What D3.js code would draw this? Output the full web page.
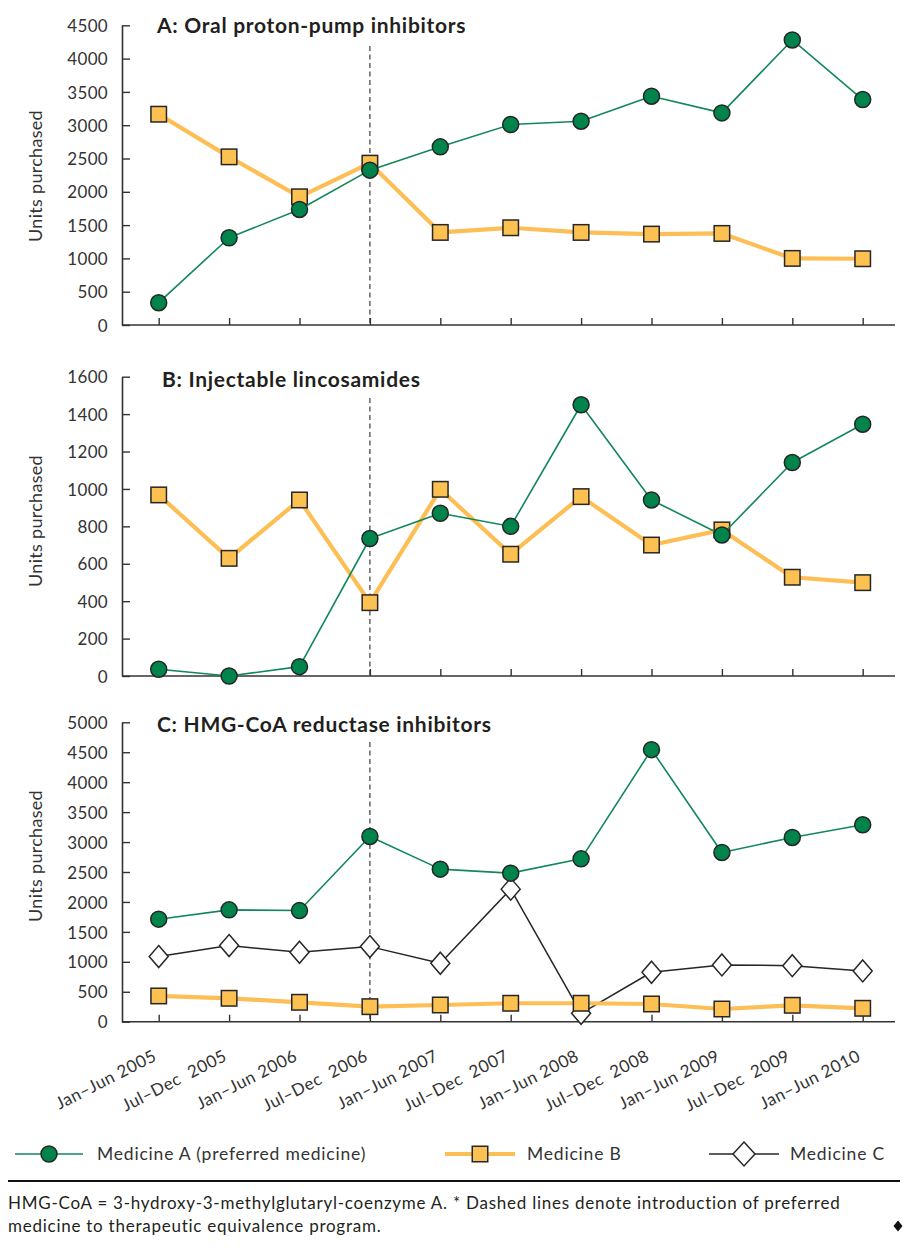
<!DOCTYPE html>
<html>
<head>
<meta charset="utf-8">
<script src="https://cdn.jsdelivr.net/npm/d3@7"></script>
<style>
  html, body { margin: 0; padding: 0; background: #fff; }
  svg text { font-family: Lato, "Open Sans", sans-serif; }
</style>
</head>
<body>
<svg id="chart" width="910" height="1260"></svg>
<script>
// ---------- DATA ----------
const periods = ["Jan–Jun 2005", "Jul–Dec  2005", "Jan–Jun 2006", "Jul–Dec  2006", "Jan–Jun 2007",
  "Jul–Dec  2007", "Jan–Jun 2008", "Jul–Dec  2008", "Jan–Jun 2009", "Jul–Dec  2009", "Jan–Jun 2010"];
const introPeriod = "Jul–Dec  2006";

const titleA = "A: Oral proton-pump inhibitors";
const titleB = "B: Injectable lincosamides";
const titleC = "C: HMG-CoA reductase inhibitors";

const ppiMedA = [335, 1310, 1735, 2325, 2675, 3010, 3060, 3435, 3185, 4280, 3385];
const ppiMedB = [3165, 2525, 1925, 2430, 1390, 1460, 1390, 1365, 1375, 1000, 995];

const lincMedA = [36, 0, 50, 735, 870, 800, 1450, 941, 754, 1141, 1346];
const lincMedB = [968, 629, 941, 392, 998, 651, 959, 700, 781, 528, 499];

const hmgMedA = [1712, 1868, 1856, 3093, 2548, 2481, 2720, 4543, 2826, 3077, 3289];
const hmgMedB = [430, 391, 324, 251, 279, 308, 308, 296, 212, 274, 224];
const hmgMedC = [1087, 1271, 1160, 1254, 976, 2214, 140, 826, 948, 936, 848];

const ticksA = [0, 500, 1000, 1500, 2000, 2500, 3000, 3500, 4000, 4500];
const ticksB = [0, 200, 400, 600, 800, 1000, 1200, 1400, 1600];
const ticksC = [0, 500, 1000, 1500, 2000, 2500, 3000, 3500, 4000, 4500, 5000];

const yLabel = "Units purchased";
const legendLabels = ["Medicine A (preferred medicine)", "Medicine B", "Medicine C"];
const footLine1 = "HMG-CoA = 3-hydroxy-3-methylglutaryl-coenzyme A. * Dashed lines denote introduction of preferred";
const footLine2 = "medicine to therapeutic equivalence program.";

// ---------- STYLE ----------
const GREEN = "#00844c", GREEN_LINE = "#12875a";
const ORANGE = "#fdc151", ORANGE_LINE = "#fdbf55";
const DARK = "#262626", AXIS = "#333333", TEXT = "#333333";

const svg = d3.select("#chart");
const axisLeftX = 122, axisRightX = 895;
const x = d3.scalePoint().domain(periods).range([158.7, 862.7]);

const panels = [
  { title: titleA, titleX: 157, titleY: 33, top: 25.3, bottom: 325, max: 4500, ticks: ticksA, dashTop: 46, labelY: 176,
    series: [{ values: ppiMedB, type: "B" }, { values: ppiMedA, type: "A" }] },
  { title: titleB, titleX: 162, titleY: 387, top: 376.7, bottom: 676, max: 1600, ticks: ticksB, dashTop: 398, labelY: 521,
    series: [{ values: lincMedB, type: "B" }, { values: lincMedA, type: "A" }] },
  { title: titleC, titleX: 157, titleY: 732, top: 722.3, bottom: 1021.7, max: 5000, ticks: ticksC, dashTop: 742, labelY: 856,
    series: [{ values: hmgMedC, type: "C" }, { values: hmgMedB, type: "B" }, { values: hmgMedA, type: "A" }], xLabels: true }
];

const diamondPath = (hw, hh) => `M0,${-hh}L${hw},0L0,${hh}L${-hw},0Z`;

function drawMarker(g, type, cx, cy, legend) {
  if (type === "A") {
    g.append("circle").attr("cx", cx).attr("cy", cy).attr("r", 8)
      .attr("fill", GREEN).attr("stroke", DARK).attr("stroke-width", 1.5);
  } else if (type === "B") {
    const s = 15.5;
    g.append("rect").attr("x", cx - s / 2).attr("y", cy - s / 2).attr("width", s).attr("height", s)
      .attr("fill", ORANGE).attr("stroke", DARK).attr("stroke-width", 1.5);
  } else {
    const hw = legend ? 11 : 9.5, hh = legend ? 12 : 11;
    g.append("path").attr("d", diamondPath(hw, hh)).attr("transform", `translate(${cx},${cy})`)
      .attr("fill", "#fff").attr("stroke", DARK).attr("stroke-width", 1.5);
  }
}
const lineStyle = {
  A: { color: GREEN_LINE, width: 1.6 },
  B: { color: ORANGE_LINE, width: 4.2 },
  C: { color: DARK, width: 1.5 }
};

panels.forEach(p => {
  const y = d3.scaleLinear().domain([0, p.max]).range([p.bottom, p.top]);
  const g = svg.append("g");

  // dashed introduction line
  g.append("line").attr("x1", x(introPeriod)).attr("x2", x(introPeriod))
    .attr("y1", p.dashTop).attr("y2", p.bottom)
    .attr("stroke", "#4a4a4a").attr("stroke-width", 1.3).attr("stroke-dasharray", "5,3.5");

  // y axis
  const ya = g.append("g").attr("transform", `translate(${axisLeftX},0)`)
    .call(d3.axisLeft(y).tickValues(p.ticks).tickSizeInner(-8).tickSizeOuter(0).tickPadding(14).tickFormat(d3.format("d")));
  ya.select(".domain").attr("stroke", AXIS).attr("stroke-width", 1.6);
  ya.selectAll(".tick line").attr("stroke", AXIS).attr("stroke-width", 1.4);
  ya.selectAll(".tick text").attr("fill", TEXT).style("font-size", "17px")
    .style("letter-spacing", "0.3px").attr("dy", "0.36em");

  // x axis
  const xa = g.append("g").attr("transform", `translate(0,${p.bottom})`)
    .call(d3.axisBottom(x).tickSizeInner(-7).tickSizeOuter(0).tickFormat(""));
  xa.select(".domain").remove();
  xa.selectAll(".tick line").attr("stroke", AXIS).attr("stroke-width", 1.4);
  g.append("line").attr("x1", axisLeftX).attr("x2", axisRightX).attr("y1", p.bottom).attr("y2", p.bottom)
    .attr("stroke", AXIS).attr("stroke-width", 1.6);

  if (p.xLabels) {
    periods.forEach(d => {
      g.append("text")
        .attr("transform", `translate(${x(d) - 1},${p.bottom + 38}) rotate(-27)`)
        .attr("text-anchor", "end").attr("fill", TEXT)
        .style("font-size", "17px").style("letter-spacing", "0.5px").style("white-space", "pre")
        .text(d);
    });
  }

  // title
  g.append("text").attr("x", p.titleX).attr("y", p.titleY)
    .attr("fill", "#231f20").style("font-size", "21px").style("font-weight", "700")
    .style("letter-spacing", "0.7px").text(p.title);

  // y label
  g.append("text").attr("transform", `translate(42,${p.labelY}) rotate(-90)`)
    .attr("text-anchor", "middle").attr("fill", TEXT).style("font-size", "18px")
    .style("letter-spacing", "0.3px").text(yLabel);

  // series
  p.series.forEach(s => {
    const st = lineStyle[s.type];
    const line = d3.line().x((d, i) => x(periods[i])).y(d => y(d));
    g.append("path").datum(s.values).attr("d", line).attr("fill", "none")
      .attr("stroke", st.color).attr("stroke-width", st.width).attr("stroke-linejoin", "round");
    s.values.forEach((v, i) => drawMarker(g, s.type, x(periods[i]), y(v)));
  });
});

// ---------- LEGEND ----------
const legY = 1154;
const legendItems = [
  { type: "A", x1: 15, x2: 83, mx: 49, tx: 97 },
  { type: "B", x1: 445, x2: 515, mx: 480, tx: 527 },
  { type: "C", x1: 709, x2: 779, mx: 744, tx: 790 }
];
legendItems.forEach((it, i) => {
  const st = lineStyle[it.type];
  const lg = svg.append("g");
  lg.append("line").attr("x1", it.x1).attr("x2", it.x2).attr("y1", legY).attr("y2", legY)
    .attr("stroke", st.color).attr("stroke-width", it.type === "B" ? 4.2 : 1.6);
  drawMarker(lg, it.type, it.mx, legY, true);
  lg.append("text").attr("x", it.tx).attr("y", legY + 6).attr("fill", TEXT)
    .style("font-size", "17.5px").style("letter-spacing", "0.8px").text(legendLabels[i]);
});

// rule and footnote
svg.append("line").attr("x1", 8).attr("x2", 900).attr("y1", 1181).attr("y2", 1181)
  .attr("stroke", "#111").attr("stroke-width", 2.2);
svg.append("text").attr("x", 8).attr("y", 1209).attr("fill", "#231f20").style("font-size", "17px")
  .style("letter-spacing", "0.75px").text(footLine1);
svg.append("text").attr("x", 8).attr("y", 1232).attr("fill", "#231f20").style("font-size", "17px")
  .style("letter-spacing", "0.75px").text(footLine2);
svg.append("path").attr("d", diamondPath(4.5, 5.5)).attr("transform", "translate(898,1226)").attr("fill", "#111");
</script>
</body>
</html>
